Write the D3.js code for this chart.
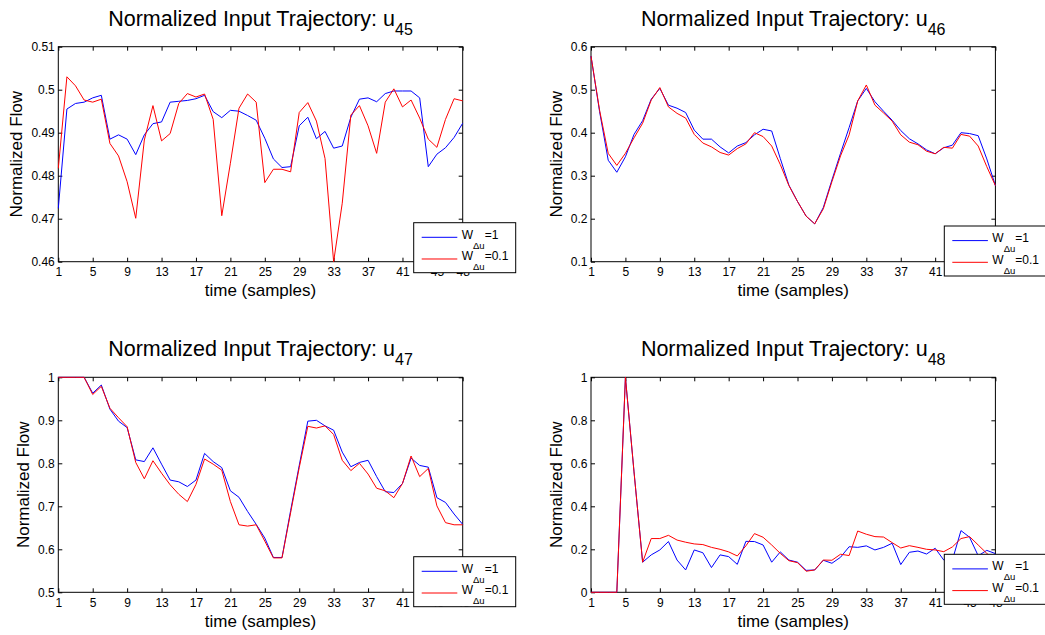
<!DOCTYPE html>
<html>
<head>
<meta charset="utf-8">
<script src="https://cdn.jsdelivr.net/npm/d3@7"></script>
<style>
  body { margin: 0; background: #fff; }
  text { font-family: "Liberation Sans", Arial, Helvetica, sans-serif; fill: #000; }
</style>
</head>
<body>
<div id="chart"></div>
<script>
// sample index on x, tick labels as in the figure
const samples = d3.range(1, 49)
const xTicks = [1, 5, 9, 13, 17, 21, 25, 29, 33, 37, 41, 45, 48]
const legendValues = ['1', '0.1']
const lineColors = ['#0000ff', '#ff0000']

// u45
const u45Ticks = [0.46, 0.47, 0.48, 0.49, 0.5, 0.51]
const u45W1 = [0.4724, 0.4955, 0.4968, 0.4971, 0.4981, 0.4987, 0.4885, 0.4895, 0.4885, 0.4849,
  0.4895, 0.4921, 0.4925, 0.4971, 0.4973, 0.4975, 0.4979, 0.4987, 0.4949, 0.4935,
  0.4952, 0.4950, 0.4940, 0.4929, 0.4887, 0.4839, 0.4819, 0.4821, 0.4916, 0.4936,
  0.4886, 0.4903, 0.4864, 0.4869, 0.4936, 0.4978, 0.4981, 0.4972, 0.4991, 0.4997,
  0.4997, 0.4997, 0.4981, 0.4821, 0.4850, 0.4865, 0.4889, 0.4922]
const u45W01 = [0.4817, 0.5030, 0.5009, 0.4976, 0.4971, 0.4978, 0.4875, 0.4846, 0.4786, 0.4701,
  0.4883, 0.4963, 0.4881, 0.4898, 0.4968, 0.4991, 0.4983, 0.4990, 0.4931, 0.4707,
  0.4829, 0.4957, 0.4990, 0.4971, 0.4784, 0.4815, 0.4815, 0.4809, 0.4947, 0.4970,
  0.4927, 0.4840, 0.4600, 0.4736, 0.4941, 0.4963, 0.4916, 0.4852, 0.4971, 0.5002,
  0.4960, 0.4976, 0.4934, 0.4885, 0.4866, 0.4931, 0.4979, 0.4974]

// u46
const u46Ticks = [0.1, 0.2, 0.3, 0.4, 0.5, 0.6]
const u46W1 = [0.578, 0.449, 0.336, 0.308, 0.344, 0.396, 0.428, 0.478, 0.503, 0.464,
  0.457, 0.447, 0.406, 0.385, 0.385, 0.367, 0.353, 0.369, 0.377, 0.395,
  0.408, 0.404, 0.340, 0.278, 0.240, 0.206, 0.188, 0.226, 0.290, 0.352,
  0.412, 0.474, 0.503, 0.472, 0.450, 0.429, 0.405, 0.386, 0.374, 0.360,
  0.351, 0.365, 0.371, 0.400, 0.398, 0.393, 0.339, 0.277]
const u46W01 = [0.578, 0.452, 0.352, 0.324, 0.352, 0.388, 0.422, 0.476, 0.505, 0.460,
  0.445, 0.434, 0.396, 0.376, 0.367, 0.354, 0.348, 0.363, 0.374, 0.400,
  0.391, 0.369, 0.326, 0.277, 0.240, 0.206, 0.188, 0.223, 0.286, 0.346,
  0.395, 0.474, 0.511, 0.464, 0.446, 0.427, 0.395, 0.378, 0.372, 0.357,
  0.351, 0.366, 0.364, 0.396, 0.392, 0.369, 0.321, 0.277]

// u47
const u47Ticks = [0.5, 0.6, 0.7, 0.8, 0.9, 1]
const u47W1 = [1, 1, 1, 1, 0.963, 0.982, 0.926, 0.898, 0.883, 0.808,
  0.804, 0.836, 0.798, 0.761, 0.757, 0.746, 0.761, 0.823, 0.804, 0.790,
  0.736, 0.721, 0.688, 0.658, 0.626, 0.581, 0.581, 0.690, 0.795, 0.898,
  0.900, 0.887, 0.877, 0.826, 0.792, 0.802, 0.807, 0.769, 0.734, 0.732,
  0.753, 0.812, 0.795, 0.791, 0.720, 0.709, 0.682, 0.658]
const u47W01 = [1, 1, 1, 1, 0.960, 0.979, 0.928, 0.906, 0.885, 0.802,
  0.764, 0.806, 0.777, 0.750, 0.728, 0.711, 0.751, 0.810, 0.798, 0.784,
  0.711, 0.657, 0.654, 0.657, 0.619, 0.580, 0.580, 0.685, 0.790, 0.886,
  0.882, 0.887, 0.867, 0.807, 0.783, 0.800, 0.775, 0.742, 0.736, 0.720,
  0.753, 0.817, 0.769, 0.788, 0.701, 0.662, 0.657, 0.657]

// u48
const u48Ticks = [0, 0.2, 0.4, 0.6, 0.8, 1]
const u48W1 = [0, 0, 0, 0, 1, 0.56, 0.140, 0.174, 0.197, 0.236,
  0.150, 0.104, 0.197, 0.184, 0.115, 0.174, 0.166, 0.130, 0.237, 0.236,
  0.220, 0.140, 0.188, 0.150, 0.140, 0.102, 0.104, 0.149, 0.135, 0.163,
  0.212, 0.209, 0.216, 0.197, 0.209, 0.228, 0.129, 0.186, 0.192, 0.178,
  0.205, 0.150, 0.150, 0.287, 0.256, 0.170, 0.195, 0.180]
const u48W01 = [0, 0, 0, 0, 1, 0.56, 0.140, 0.250, 0.250, 0.265,
  0.243, 0.233, 0.225, 0.222, 0.209, 0.200, 0.188, 0.169, 0.216, 0.273,
  0.256, 0.220, 0.181, 0.147, 0.138, 0.098, 0.104, 0.150, 0.149, 0.177,
  0.171, 0.285, 0.270, 0.259, 0.257, 0.231, 0.206, 0.217, 0.209, 0.200,
  0.197, 0.189, 0.211, 0.250, 0.259, 0.220, 0.181, 0.150]

const W = 1045, H = 635
const axW = 404.4, axH = 215

const panels = [
  { sub: '45', left: 58.3, top: 46.7, ylabX: 21.5, ticks: u45Ticks, series: [u45W1, u45W01], legend: [413.7, 222.7] },
  { sub: '46', left: 591, top: 46.7, ylabX: 562, ticks: u46Ticks, series: [u46W1, u46W01], legend: [944.3, 226] },
  { sub: '47', left: 58.3, top: 377.3, ylabX: 28.5, ticks: u47Ticks, series: [u47W1, u47W01], legend: [413.7, 556.7] },
  { sub: '48', left: 591, top: 377.3, ylabX: 562, ticks: u48Ticks, series: [u48W1, u48W01], legend: [944.3, 554.3] }
]

const svg = d3.select('#chart').append('svg')
  .attr('width', W)
  .attr('height', H)

svg.append('rect').attr('width', W).attr('height', H).attr('fill', '#fff')

panels.forEach(function (p, k) {
  const x = d3.scaleLinear().domain([1, 48]).range([0, axW])
  const y = d3.scaleLinear().domain(d3.extent(p.ticks)).range([axH, 0])

  const g = svg.append('g').attr('transform', 'translate(' + p.left + ',' + p.top + ')')

  // axes with inward ticks on all four sides
  const fmt = d => String(d)
  g.append('g').attr('transform', 'translate(0,' + axH + ')')
    .call(d3.axisBottom(x).tickValues(xTicks).tickFormat(fmt).tickSizeInner(-4).tickSizeOuter(0).tickPadding(6))
  g.append('g')
    .call(d3.axisTop(x).tickValues(xTicks).tickFormat('').tickSizeInner(-4).tickSizeOuter(0))
  g.append('g')
    .call(d3.axisLeft(y).tickValues(p.ticks).tickFormat(fmt).tickSizeInner(-4).tickSizeOuter(0).tickPadding(3.5))
  g.append('g').attr('transform', 'translate(' + axW + ',0)')
    .call(d3.axisRight(y).tickValues(p.ticks).tickFormat('').tickSizeInner(-4).tickSizeOuter(0))
  g.selectAll('.domain').remove()
  g.selectAll('.tick line').attr('stroke', '#000')
  g.selectAll('.tick text')
    .style('font-size', '12px')
    .style('font-family', '"Liberation Sans", Arial, sans-serif')
    .attr('fill', '#000')

  g.append('rect')
    .attr('width', axW).attr('height', axH)
    .attr('fill', 'none').attr('stroke', '#000').attr('stroke-width', 1)

  // data lines
  const clipId = 'clip' + k
  g.append('clipPath').attr('id', clipId)
    .append('rect').attr('x', -1).attr('y', -1).attr('width', axW + 2).attr('height', axH + 2)

  const line = d3.line()
    .x((d, i) => x(samples[i]))
    .y(d => y(d))

  p.series.forEach(function (vals, s) {
    g.append('path')
      .datum(vals)
      .attr('clip-path', 'url(#' + clipId + ')')
      .attr('fill', 'none')
      .attr('stroke', lineColors[s])
      .attr('stroke-width', 1)
      .attr('d', line)
  })

  // title
  const title = g.append('text')
    .attr('x', axW / 2)
    .attr('y', -21)
    .attr('text-anchor', 'middle')
    .style('font-size', '21.5px')
  title.append('tspan').text('Normalized Input Trajectory: u')
  title.append('tspan').attr('dy', 9).style('font-size', '16px').text(p.sub)

  // axis labels
  g.append('text')
    .attr('x', axW / 2)
    .attr('y', axH + 34.5)
    .attr('text-anchor', 'middle')
    .style('font-size', '17px')
    .text('time (samples)')

  g.append('text')
    .attr('transform', 'translate(' + (p.ylabX - p.left) + ',' + axH / 2 + ') rotate(-90)')
    .attr('text-anchor', 'middle')
    .style('font-size', '17px')
    .text('Normalized Flow')

  // legend box
  const lg = svg.append('g').attr('transform', 'translate(' + p.legend[0] + ',' + p.legend[1] + ')')
  lg.append('rect')
    .attr('width', 102).attr('height', 50)
    .attr('fill', '#fff').attr('stroke', '#000').attr('stroke-width', 1)
  legendValues.forEach(function (v, s) {
    const ly = 14.6 + s * 21.7
    lg.append('line')
      .attr('x1', 8).attr('x2', 43.6)
      .attr('y1', ly).attr('y2', ly)
      .attr('stroke', lineColors[s]).attr('stroke-width', 1)
    const t = lg.append('text')
      .attr('x', 48)
      .attr('y', ly + 1.3)
      .style('font-size', '12px')
    t.append('tspan').text('W')
    t.append('tspan').attr('dy', 10).style('font-size', '9.5px').text('\u0394u')
    t.append('tspan').attr('dy', -10).text('=' + v)
  })
})
</script>
</body>
</html>
